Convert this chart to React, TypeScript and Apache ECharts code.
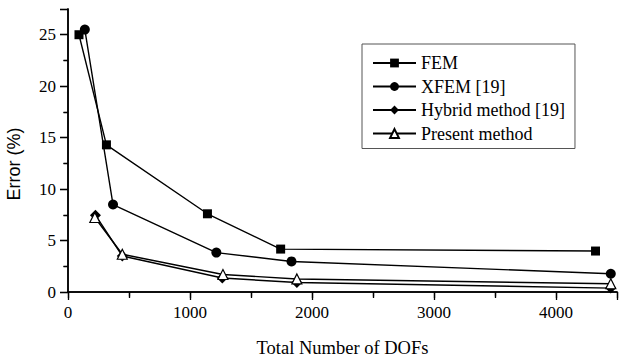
import React, { useEffect, useRef } from "react";
import * as echarts from "echarts";

const seriesNames = ["FEM", "XFEM [19]", "Hybrid method [19]", "Present method"];
const femX = [90, 315, 1143, 1743, 4324];
const femY = [25, 14.3, 7.6, 4.17, 3.98];
const xfemX = [138, 369, 1216, 1832, 4449];
const xfemY = [25.5, 8.5, 3.83, 2.97, 1.77];
const hybridX = [225, 445, 1265, 1876, 4449];
const hybridY = [7.46, 3.5, 1.36, 0.92, 0.38];
const presentX = [220, 445, 1270, 1876, 4449];
const presentY = [7.24, 3.67, 1.7, 1.27, 0.8];

const xTitle = "Total Number of DOFs";
const yTitle = "Error (%)";

const SERIF = "Liberation Serif";
const SANS = "Liberation Sans";

const pairs = (xs: number[], ys: number[]) => xs.map((x, i) => [x, ys[i]]);

export default function App() {
  const ref = useRef<HTMLDivElement>(null);
  useEffect(() => {
    if (!ref.current) return;
    const chart = echarts.init(ref.current, null, { renderer: "svg" });
    const axisLine = { show: true, lineStyle: { color: "#000", width: 1.5 } };
    const mkSeries = (name: string, data: number[][], symbol: string, size: number, fill: string) => ({
      name,
      type: "line",
      data,
      symbol,
      symbolSize: size,
      showSymbol: true,
      lineStyle: { color: "#000", width: 1.4 },
      itemStyle: { color: fill, borderColor: "#000", borderWidth: fill === "#fff" ? 1.2 : 0 },
      xAxisIndex: 0,
      yAxisIndex: 0,
      z: 3,
    });
    chart.setOption({
      animation: false,
      backgroundColor: "#fff",
      textStyle: { fontFamily: SERIF },
      grid: { left: 68, top: 9, width: 552.6, height: 289.7, containLabel: false },
      legend: {
        left: 362,
        top: 44,
        orient: "vertical",
        backgroundColor: "#fff",
        borderColor: "#555",
        borderWidth: 1,
        borderRadius: 0,
        padding: [10, 10, 6, 10],
        itemGap: 5.5,
        itemWidth: 43,
        itemHeight: 11,
        textStyle: { fontFamily: SERIF, fontSize: 18, color: "#000", lineHeight: 18 },
        data: seriesNames,
      },
      xAxis: [
        {
          type: "value",
          position: "bottom",
          min: 0,
          max: 4500,
          interval: 1000,
          axisLine,
          axisTick: { show: true, inside: false, length: 8, lineStyle: { color: "#000", width: 1.3 } },
          minorTick: { show: true, splitNumber: 2, length: 4.5, lineStyle: { color: "#000", width: 1.3 } },
          splitLine: { show: false },
          axisLabel: {
            margin: 12,
            fontFamily: SERIF,
            fontSize: 17,
            color: "#000",
            formatter: (v: number) => (v % 1000 === 0 ? String(v) : ""),
          },
          name: xTitle,
          nameLocation: "middle",
          nameGap: 46,
          nameTextStyle: { fontFamily: SERIF, fontSize: 18.5, color: "#000" },
        },
        {
          type: "value",
          position: "top",
          min: 0,
          max: 4500,
          interval: 500,
          axisLine,
          axisTick: { show: true, inside: true, length: 6, lineStyle: { color: "#000", width: 1.3 } },
          splitLine: { show: false },
          axisLabel: { show: false },
        },
      ],
      yAxis: [
        {
          type: "value",
          position: "left",
          min: 0,
          max: 27.5,
          interval: 5,
          axisLine,
          axisTick: { show: true, inside: false, length: 8, lineStyle: { color: "#000", width: 1.3 } },
          minorTick: { show: true, splitNumber: 2, length: 4.5, lineStyle: { color: "#000", width: 1.3 } },
          splitLine: { show: false },
          axisLabel: {
            margin: 12,
            fontFamily: SERIF,
            fontSize: 17,
            color: "#000",
            formatter: (v: number) => (v % 5 === 0 ? String(v) : ""),
          },
        },
        {
          type: "value",
          position: "right",
          min: 0,
          max: 27.5,
          interval: 5,
          axisLine,
          axisTick: { show: true, inside: true, length: 8, lineStyle: { color: "#000", width: 1.3 } },
          minorTick: { show: true, splitNumber: 2, length: 4.5, lineStyle: { color: "#000", width: 1.3 } },
          splitLine: { show: false },
          axisLabel: { show: false },
        },
      ],
      graphic: [
        {
          type: "text",
          x: 14,
          y: 164,
          rotation: Math.PI / 2,
          style: {
            text: yTitle,
            fontFamily: SANS,
            fontSize: 18,
            fill: "#000",
            textAlign: "center",
            textVerticalAlign: "middle",
          },
        },
      ],
      series: [
        mkSeries(seriesNames[0], pairs(femX, femY), "rect", 9, "#000"),
        mkSeries(seriesNames[1], pairs(xfemX, xfemY), "circle", 10, "#000"),
        mkSeries(seriesNames[2], pairs(hybridX, hybridY), "diamond", 11, "#000"),
        mkSeries(seriesNames[3], pairs(presentX, presentY), "triangle", 10, "#fff"),
      ],
    });
    return () => chart.dispose();
  }, []);
  return (
    <div
      ref={ref}
      style={{ position: "fixed", left: 0, top: 0, width: 620, height: 362, background: "#fff" }}
    />
  );
}
